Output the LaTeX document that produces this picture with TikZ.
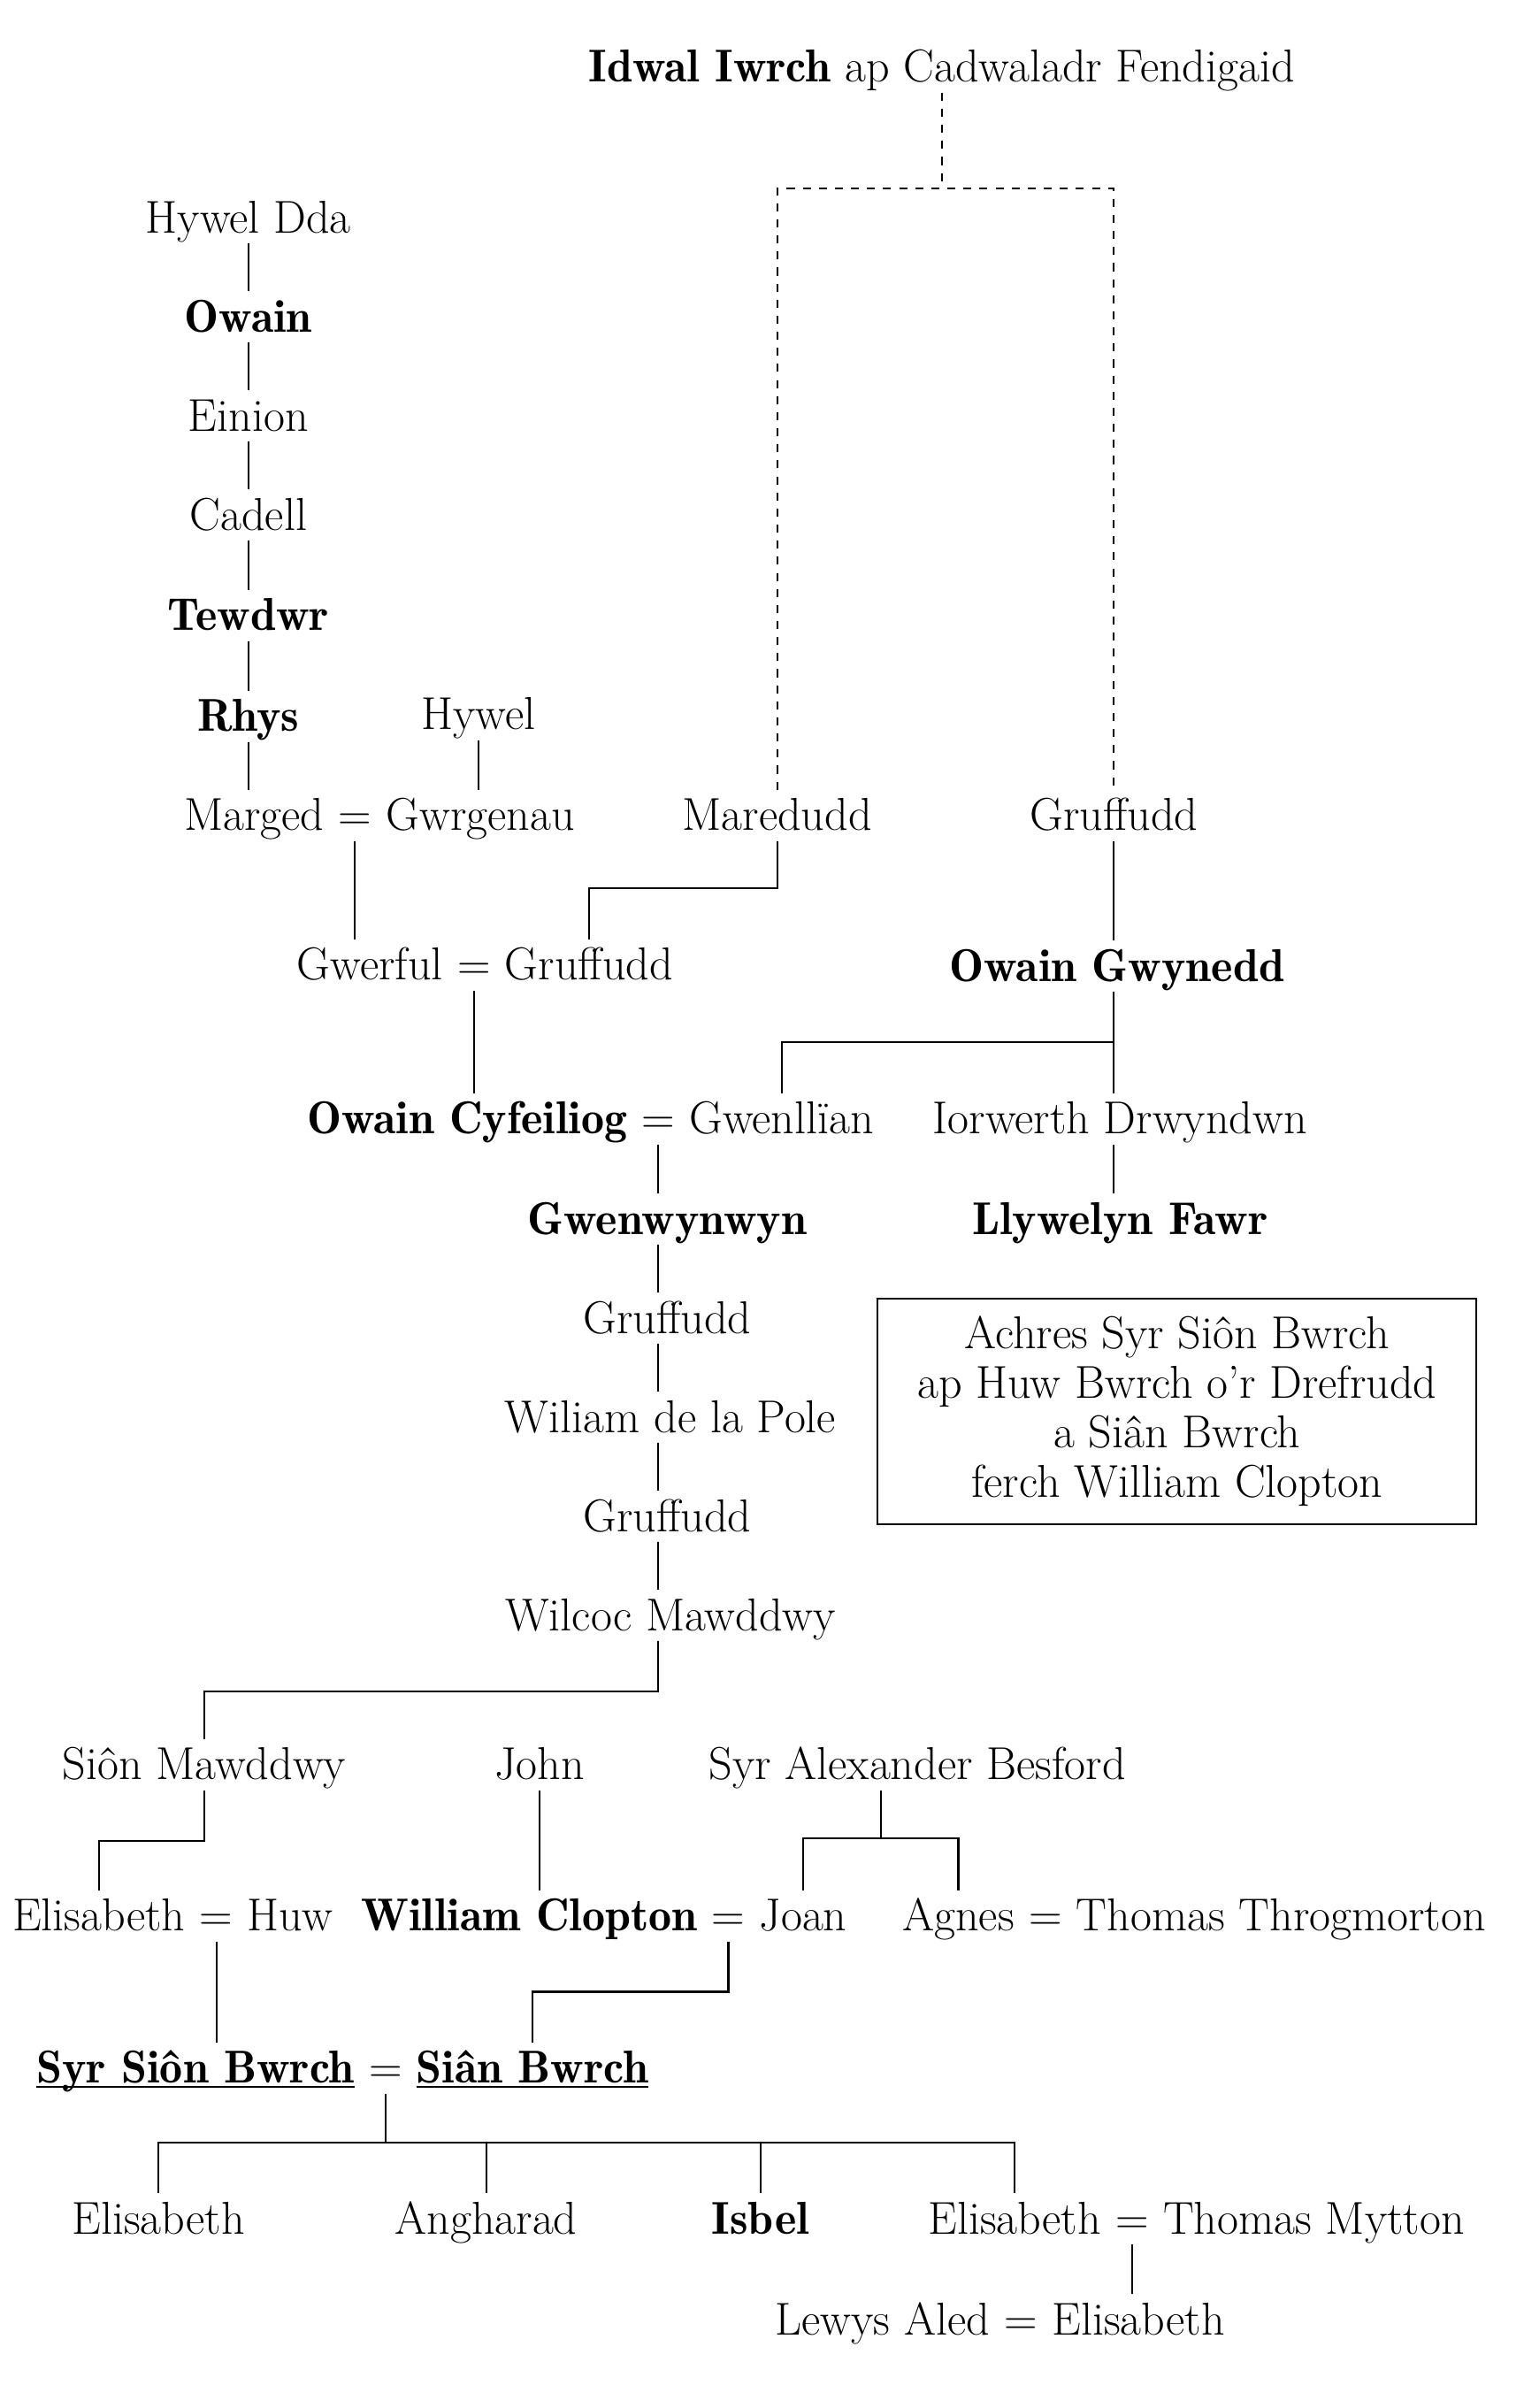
\documentclass[tikz,border=0pt]{standalone}
\usepackage{tikz}
\usetikzlibrary{positioning, calc}
\newcommand{\boldname}[1]{{\fontseries{b}\selectfont #1}}
\tikzset{
  personnode/.style={inner xsep=0pt, inner ysep=0pt, text height=13.2pt, text depth=2pt, minimum height=0.66cm},
  marriagenode/.style={personnode},
  notenode/.style={draw, line width=0.7pt, align=center, minimum width=7.86cm, minimum height=2.96cm},
  kinline/.style={line width=0.7pt},
  dasheddescent/.style={line width=0.7pt, dashed}
}

\begin{document}
\begin{tikzpicture}[x=0.02cm, y=0.02cm, node distance=5pt,
  every node/.style={font=\fontsize{17.2}{18.5}\selectfont}]
\useasboundingbox (0,0) rectangle (1000,-1580);

% Nodes
\node[personnode] (idwal) at (618,-44) {\boldname{Idwal Iwrch} ap Cadwaladr Fendigaid};

\node[personnode] (hyweldda) at (163,-143) {Hywel Dda};
\node[personnode] (owain) at (163,-208) {\boldname{Owain}};
\node[personnode] (einion) at (163,-273) {Einion};
\node[personnode] (cadell) at (163,-338) {Cadell};
\node[personnode] (tewdwr) at (163,-404) {\boldname{Tewdwr}};
\node[personnode] (rhys) at (163,-470) {\boldname{Rhys}};
\node[personnode] (hywel) at (314,-469) {Hywel};

\node[marriagenode] (eqa) at (233,-535) {=};
\node[personnode, left=of eqa] (marged) {Marged};
\node[personnode, right=of eqa] (gwrgenau) {Gwrgenau};
\node[personnode] (maredudd) at (510,-535) {Maredudd};
\node[personnode] (gruffudda) at (731,-535) {Gruffudd};

\node[marriagenode] (eqb) at (311,-633) {=};
\node[personnode, left=of eqb] (gwerful) {Gwerful};
\node[personnode, right=of eqb] (gruffuddb) {Gruffudd};
\node[personnode] (owaingwynedd) at (733,-634) {\boldname{Owain Gwynedd}};

\node[marriagenode] (eqc) at (432,-734) {=};
\node[personnode, left=of eqc] (owaincyf) {\boldname{Owain Cyfeiliog}};
\node[personnode, right=of eqc] (gwenllian) {Gwenllïan};
\node[personnode] (iorwerth) at (735,-734) {Iorwerth Drwyndwn};
\node[personnode] (llywelyn) at (735,-800) {\boldname{Llywelyn Fawr}};

\node[personnode] (gwenwynwyn) at (438,-800) {\boldname{Gwenwynwyn}};
\node[personnode] (gruffuddc) at (438,-865) {Gruffudd};
\node[personnode] (wiliam) at (440,-930) {Wiliam de la Pole};
\node[personnode] (gruffuddd) at (438,-995) {Gruffudd};
\node[personnode] (wilcoc) at (440,-1060) {Wilcoc Mawddwy};

\node[notenode] (note) at (772.5,-926) {Achres Syr Siôn Bwrch\\ap Huw Bwrch o’r Drefrudd\\a Siân Bwrch\\ferch William Clopton};

\node[personnode] (sionm) at (134,-1158) {Siôn Mawddwy};
\node[personnode] (john) at (354,-1158) {John};
\node[personnode] (alexander) at (602,-1158) {Syr Alexander Besford};

\node[marriagenode] (eqd) at (142,-1257) {=};
\node[personnode, left=of eqd] (elisa) {Elisabeth};
\node[personnode, right=of eqd] (huw) {Huw};
\node[marriagenode] (eqe) at (478,-1257) {=};
\node[personnode, left=of eqe] (clopton) {\boldname{William Clopton}};
\node[personnode, right=of eqe] (joan) {Joan};
\node[marriagenode] (eqf) at (686,-1257) {=};
\node[personnode, left=of eqf] (agnes) {Agnes};
\node[personnode, right=of eqf] (throgmorton) {Thomas Throgmorton};

\node[marriagenode] (eqg) at (253,-1357) {=};
\node[personnode, left=of eqg] (syrsion) {\underline{\smash{\boldname{Syr Siôn Bwrch}}}};
\node[personnode, right=of eqg] (sian) {\underline{\smash{\boldname{Siân Bwrch}}}};

\node[personnode] (elisb) at (104,-1456) {Elisabeth};
\node[personnode] (angharad) at (319,-1456) {Angharad};
\node[personnode] (isbel) at (499,-1456) {\boldname{Isbel}};
\node[marriagenode] (eqh) at (743,-1456) {=};
\node[personnode, left=of eqh] (elisc) {Elisabeth};
\node[personnode, right=of eqh] (mytton) {Thomas Mytton};

\node[marriagenode] (eqi) at (670,-1522) {=};
\node[personnode, left=of eqi] (lewys) {Lewys Aled};
\node[personnode, right=of eqi] (elisd) {Elisabeth};

% Edges
\draw[dasheddescent] (idwal.south) -- ++(0,-63) coordinate (idwalbar);
\draw[dasheddescent] (maredudd.north) |- (idwalbar) -| (gruffudda.north);

\foreach \a/\b in {hyweldda/owain, owain/einion, einion/cadell, cadell/tewdwr, tewdwr/rhys}
  \draw[kinline] (\a) -- (\b);
\draw[kinline] (rhys.south) -- (rhys.south |- marged.north);
\draw[kinline] (hywel.south) -- (hywel.south |- gwrgenau.north);

\draw[kinline] (eqa.south) -- (eqa.south |- gwerful.north);
\draw[kinline] (maredudd.south) -- ++(0,-31) -| (gruffuddb.north);
\draw[kinline] (gruffudda.south) -- (gruffudda.south |- owaingwynedd.north);
\draw[kinline] (owaingwynedd.south -| gruffudda.south) -- (iorwerth.north -| gruffudda.south);
\draw[kinline] (gwenllian.north) |- ($(owaingwynedd.south -| gruffudda.south)!0.5!(iorwerth.north -| gruffudda.south)$);
\draw[kinline] (iorwerth.south -| gruffudda.south) -- (llywelyn.north -| gruffudda.south);

\draw[kinline] (eqb.south) -- (eqb.south |- owaincyf.north);
\draw[kinline] (eqc.south) -- (eqc.south |- gwenwynwyn.north);
\foreach \a/\b in {gwenwynwyn/gruffuddc, gruffuddc/wiliam, wiliam/gruffuddd, gruffuddd/wilcoc}
  \draw[kinline] (\a.south -| eqc.south) -- (\b.north -| eqc.south);

\draw[kinline] (wilcoc.south -| eqc.south) -- ++(0,-33) -| (sionm.north);
\draw[kinline] (sionm.south) -- ++(0,-33) -| (elisa.north);
\draw[kinline] (john.south) -- (john.south |- clopton.north);
\coordinate (sisters) at ($(joan.north)!0.5!(agnes.north)+(0,34)$);
\draw[kinline] (joan.north) |- (sisters) -| (agnes.north);
\draw[kinline] (sisters) -- (sisters |- alexander.south);

\draw[kinline] (eqd.south) -- (eqd.south |- syrsion.north);
\draw[kinline] (eqe.south) -- ++(0,-33) -| (sian.north);

\draw[kinline] (eqg.south) -- ++(0,-32) coordinate (children);
\draw[kinline] (elisb.north) |- (children) -| (elisc.north);
\foreach \n in {angharad, isbel}
  \draw[kinline] (\n.north) -- (\n.north |- children);

\draw[kinline] (eqh.south) -- (eqh.south |- elisd.north);

\end{tikzpicture}
\end{document}
